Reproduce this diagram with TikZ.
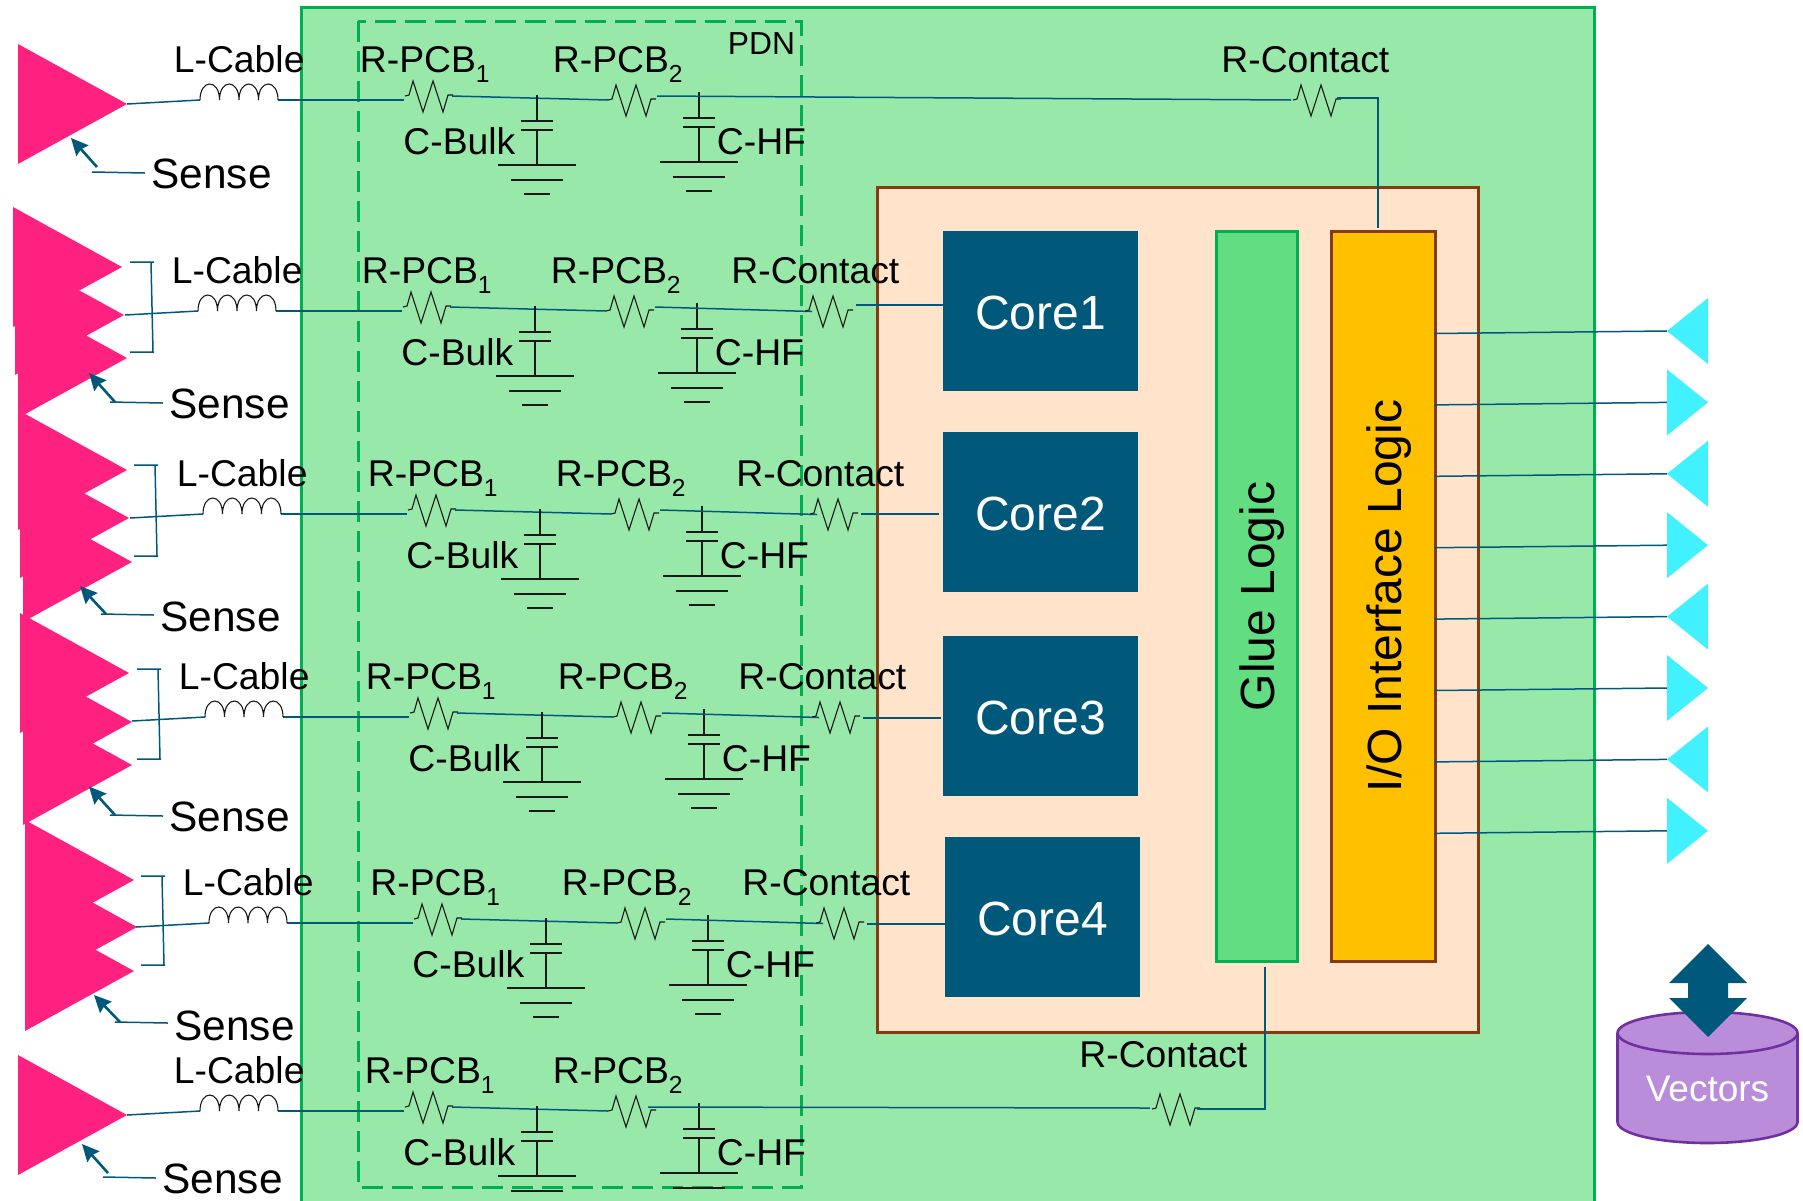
\documentclass[tikz,border=0pt]{standalone}
\usepackage{fontspec}
\setmainfont{Liberation Sans}
\usetikzlibrary{arrows.meta}
\definecolor{bggreen}{HTML}{98E8AA}
\definecolor{bordergreen}{HTML}{00B050}
\definecolor{peach}{HTML}{FFE3CB}
\definecolor{brownline}{HTML}{843C0C}
\definecolor{coreblue}{HTML}{00587A}
\definecolor{gluegreen}{HTML}{63DD82}
\definecolor{ioyellow}{HTML}{FFC000}
\definecolor{pinktri}{HTML}{FF217F}
\definecolor{cyantri}{HTML}{42F1FF}
\definecolor{cylfill}{HTML}{B98DDA}
\definecolor{cylline}{HTML}{7030A0}
\tikzset{
  wire/.style={draw=coreblue,line width=0.75pt},
  comp/.style={draw=black!90,line width=0.55pt},
  lbl/.style={anchor=base west,inner sep=0pt,font=\fontsize{18.65}{22}\selectfont},
  senselbl/.style={anchor=base west,inner sep=0pt,font=\fontsize{21.2}{24}\selectfont},
  corebox/.style={fill=coreblue,text=white,inner sep=0pt,minimum width=97.5pt,minimum height=80pt,text height=18pt,text depth=0pt,font=\fontsize{24}{28}\selectfont},
  tallbox/.style={line width=1.5pt,inner sep=0pt,rotate=90,minimum width=365pt,text height=21.5pt,text depth=3.5pt,font=\fontsize{24}{28}\selectfont},
  pointer/.style={draw=coreblue,line width=1.3pt,-{Stealth[length=8.5pt,width=8pt,inset=1pt]}},
}
\newcommand{\subdigit}[1]{\raisebox{-5pt}{\fontsize{12.3}{14}\selectfont #1}}
% resistor, anchored at its left lead
\newcommand{\resistorat}[2]{\draw[comp,line join=miter] (#1,#2) -- ++(4,-1) -- ++(4,-14) -- ++(10,31) -- ++(10,-31) -- ++(10,31) -- ++(5,-17) -- ++(5,0);}
% capacitor with ground
\newcommand{\capat}[2]{
  \begin{scope}[shift={(#1,#2)}]
    \draw[comp] (0,0) -- (0,26) (-16,26) -- (16,26) (-16,35) -- (16,35) (0,35) -- (0,70)
      (-39,70) -- (39,70) (-26,85) -- (26,85) (-13,99) -- (13,99);
  \end{scope}}
% one PDN row
\newcommand{\circuitrow}[4]{
  \begin{scope}[shift={(#2,#3)}]
    \coordinate (#1tip) at (127,104);
    \coordinate (#1Lin) at (200,100);
    \coordinate (#1Lout) at (278,100);
    \coordinate (#1Ain) at (404,100);
    \coordinate (#1Aout) at (452,96);
    \coordinate (#1Bin) at (608,100);
    \coordinate (#1Bout) at (657,96);
    \draw[wire] (#1tip) -- (#1Lin);
    \draw[wire] (#1Lout) -- (#1Ain);
    \draw[wire] (#1Aout) -- (#1Bin);
    \draw[comp] (#1Lin) .. controls (200,78.7) and (219.5,78.7) .. (219.5,100)
      .. controls (219.5,78.7) and (239,78.7) .. (239,100)
      .. controls (239,78.7) and (258.5,78.7) .. (258.5,100)
      .. controls (258.5,78.7) and (278,78.7) .. (#1Lout);
    \resistorat{405}{96}
    \resistorat{608}{100}
    \capat{537}{95}
    \capat{699}{92}
    \node[lbl] (#1lc) at (173.5,72) {L-Cable};
    \node[lbl] (#1ra) at (359.5+#4,72) {R-PCB\subdigit{1}};
    \node[lbl] (#1rb) at (552.5,72) {R-PCB\subdigit{2}};
    \node[lbl] (#1cb) at (403,154) {C-Bulk};
    \node[lbl] (#1ch) at (716.5,154.5) {C-HF};
  \end{scope}}
% contact resistor for a core row
\newcommand{\contactrow}[5]{
  \begin{scope}[shift={(#2,#3)}]
    \coordinate (#1Cin) at (814,100.5);
    \coordinate (#1Cout) at (858,#4);
    \draw[wire] (#1Bout) -- (#1Cin);
    \resistorat{807}{100}
    \node[lbl] (#1rc) at (733,72) {R-Contact};
  \end{scope}
  \draw[wire] (#1Cout) -- (#5);}
% source triangle
\newcommand{\pinkat}[2]{\fill[pinktri] (#1,#2) -- ++(-109,-60) -- ++(0,120) -- cycle;}
\newcommand{\bracketat}[4]{\draw[wire] (#1,#3) -- (#1+24,#3) (#1+21,#3) -- (#1+23,#4) (#1,#4) -- (#1+24,#4);}
% sense label with its pointer
\newcommand{\senseat}[6]{
  \node[senselbl] (#1) at (#2-2,#3) {Sense};
  \begin{scope}[shift={(#2,#3)}]
    \coordinate (#1tip) at (-82,#4);
    \coordinate (#1el) at (-56,#5);
    \coordinate (#1la) at (-61,#6);
    \coordinate (#1lb) at (-8,#6+1);
  \end{scope}
  \draw[pointer] (#1el) -- (#1tip);
  \draw[wire] (#1la) -- (#1lb);}
\begin{document}
\begin{tikzpicture}[x=0.5pt,y=-0.5pt]
\useasboundingbox (0,0) rectangle (1803,1200);
\clip (0,0) rectangle (1803,1200);
% main boxes
\draw[bordergreen,fill=bggreen,line width=1.5pt] (301,7) rectangle (1594,1230);
\draw[brownline,fill=peach,line width=1.5pt] (877.5,187.5) rectangle (1478.5,1032);
\draw[bordergreen,line width=1.5pt,dash pattern=on 10.5pt off 4.5pt] (358,21) rectangle (801,1187);
\node[anchor=base west,inner sep=0pt,font=\fontsize{15.9}{18}\selectfont] (pdn) at (727.5,54) {PDN};
% cores, glue, io
\node[corebox] (core1) at (1040.5,311) {Core1};
\node[corebox] (core2) at (1040.5,512) {Core2};
\node[corebox] (core3) at (1040.5,716) {Core3};
\node[corebox] (core4) at (1042.5,917) {Core4};
\node[tallbox,draw=bordergreen,fill=gluegreen,minimum height=40.5pt] (glue) at (1256.5,596.5) {Glue Logic};
\node[tallbox,draw=brownline,fill=ioyellow,minimum height=52pt,font=\fontsize{24}{28}\selectfont] (io) at (1383.5,596) {I/O Interface Logic};
% source triangles
\pinkat{127}{104}
\pinkat{122}{267}\pinkat{124}{315}\pinkat{127}{358}
\pinkat{127}{470}\pinkat{129}{518}\pinkat{132}{562}
\pinkat{129}{673}\pinkat{132}{722}\pinkat{132}{765}
\pinkat{134}{880}\pinkat{137}{927}\pinkat{134}{971}
\pinkat{127}{1115}
% brackets
\bracketat{130}{154}{262}{352}
\bracketat{134}{159}{465}{556}
\bracketat{137}{162}{669}{759}
\bracketat{141}{166}{876}{965}
% rows
\circuitrow{a}{0}{0}{0}
\circuitrow{b}{-2}{211}{4}
\circuitrow{c}{3}{414}{5}
\circuitrow{d}{5}{617}{1}
\circuitrow{e}{9}{823}{1.5}
\circuitrow{f}{0}{1011}{5}
% contact resistors of the core rows
\coordinate (bEnd) at (943,305);
\coordinate (cEnd) at (939,514);
\coordinate (dEnd) at (941,718);
\coordinate (eEnd) at (945,924);
\contactrow{b}{-2}{211}{94}{bEnd}
\contactrow{c}{3}{414}{100}{cEnd}
\contactrow{d}{5}{617}{101}{dEnd}
\contactrow{e}{9}{823}{101}{eEnd}
% contact resistor to I/O
\coordinate (aCin) at (1291,100);
\coordinate (aCout) at (1337,98);
\coordinate (aBend) at (1378,98);
\coordinate (ioTop) at (1378,228);
\draw[wire] (aBout) -- (aCin);
\resistorat{1293}{100}
\draw[wire] (aCout) -- (aBend) -- (ioTop);
\node[lbl] (arc) at (1221,72) {R-Contact};
% contact resistor to glue
\coordinate (fBstart) at (648,1107);
\coordinate (fCin) at (1150,1108);
\coordinate (fCout) at (1197,1109);
\coordinate (fBend) at (1265,1109);
\coordinate (glueEnd) at (1265,967);
\draw[wire] (fBstart) -- (fCin);
\resistorat{1152}{1109}
\draw[wire] (fCout) -- (fBend) -- (glueEnd);
\node[lbl] (frc) at (1079,1067) {R-Contact};
% sense labels
\senseat{sa}{153}{188}{-50}{-21}{-16}
\senseat{sb}{171}{418}{-45}{-16}{-16}
\senseat{sc}{162}{631}{-45}{-17}{-17}
\senseat{sd}{171}{831}{-44.5}{-16}{-16}
\senseat{se}{176}{1040}{-45}{-18}{-18}
\senseat{sf}{164}{1193}{-49}{-20}{-16}
% outputs
\foreach \n/\yy/\dir in {1/331/1,2/402.4/-1,3/473.8/1,4/545.2/-1,5/616.6/1,6/688/-1,7/759.4/1,8/830.8/-1}{
  \coordinate (ioOut\n) at (1434,\yy+2.5);
  \coordinate (pad\n) at (1667,\yy);
  \draw[wire] (ioOut\n) -- (pad\n);
  \ifnum\dir=1
    \fill[cyantri] (1667,\yy) -- (1708,\yy-33) -- (1708,\yy+33) -- cycle;
  \else
    \fill[cyantri] (1708,\yy) -- (1667,\yy-33) -- (1667,\yy+33) -- cycle;
  \fi
}
% Vectors store
\draw[cylline,fill=cylfill,line width=1.3pt] (1617.5,1033) -- (1617.5,1122) arc[start angle=180,end angle=0,x radius=90,y radius=21] -- (1797.5,1033) arc[start angle=0,end angle=-180,x radius=90,y radius=21] -- cycle;
\draw[cylline,line width=1.3pt] (1617.5,1033) arc[start angle=180,end angle=0,x radius=90,y radius=21];
\node[anchor=base,inner sep=0pt,text=white,font=\fontsize{18.5}{22}\selectfont] (vectors) at (1707.5,1101) {Vectors};
\fill[coreblue] (1708,944) -- (1747,983) -- (1728,983) -- (1728,998) -- (1747,998) -- (1708,1037) -- (1669,998) -- (1688,998) -- (1688,983) -- (1669,983) -- cycle;
\end{tikzpicture}
\end{document}
